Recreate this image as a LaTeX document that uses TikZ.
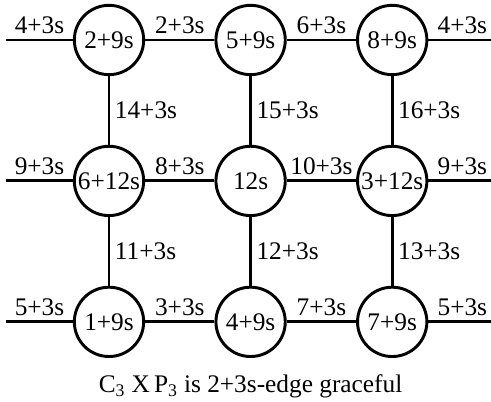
\documentclass[tikz,border=0pt]{standalone}
\usepackage{fontspec}
\setmainfont{Liberation Serif}
\usepackage{tikz}
\usetikzlibrary{positioning}

\begin{document}
\begin{tikzpicture}[
        node distance=51.5pt and 52pt,
        vertex/.style={circle, draw, line width=2.2pt, minimum size=52pt, inner sep=0pt},
        edge/.style={line width=2.2pt},
        every node/.style={font=\fontsize{19}{21}\selectfont}
    ]
        \useasboundingbox (0,0) rectangle (368.25pt,301.5pt);

        % Define nodes
        \node (a1) [vertex] at (81.75pt,271.5pt) {2+9s};
        \node (a2) [vertex, right=of a1] {5+9s};
        \node (a3) [vertex, right=of a2] {8+9s};
        \node (b1) [vertex, below=of a1] {6+12s};
        \node (b2) [vertex, right=of b1] {12s};
        \node (b3) [vertex, right=of b2] {3+12s};
        \node (c1) [vertex, below=of b1] {1+9s};
        \node (c2) [vertex, right=of c1] {4+9s};
        \node (c3) [vertex, right=of c2] {7+9s};

        % Free ends
        \coordinate [left=50pt of a1] (a0);
        \coordinate [right=51pt of a3] (a4);
        \coordinate [left=50pt of b1] (b0);
        \coordinate [right=51pt of b3] (b4);
        \coordinate [left=50pt of c1] (c0);
        \coordinate [right=51pt of c3] (c4);

        \node (caption) [below=9pt of c2] {C\textsubscript{3} X\,P\textsubscript{3} is 2+3s-edge graceful};

        % Draw edges with labels
        \draw [edge] (a0) -- node[above]{4+3s} (a1);
        \draw [edge] (a1) -- node[above]{2+3s} (a2);
        \draw [edge] (a2) -- node[above]{6+3s} (a3);
        \draw [edge] (a3) -- node[above]{4+3s} (a4);
        \draw [edge] (b0) -- node[above]{9+3s} (b1);
        \draw [edge] (b1) -- node[above]{8+3s} (b2);
        \draw [edge] (b2) -- node[above]{10+3s} (b3);
        \draw [edge] (b3) -- node[above]{9+3s} (b4);
        \draw [edge] (c0) -- node[above]{5+3s} (c1);
        \draw [edge] (c1) -- node[above]{3+3s} (c2);
        \draw [edge] (c2) -- node[above]{7+3s} (c3);
        \draw [edge] (c3) -- node[above]{5+3s} (c4);

        \draw [edge] (a1) -- node[right]{14+3s} (b1);
        \draw [edge] (a2) -- node[right]{15+3s} (b2);
        \draw [edge] (a3) -- node[right]{16+3s} (b3);
        \draw [edge] (b1) -- node[right]{11+3s} (c1);
        \draw [edge] (b2) -- node[right]{12+3s} (c2);
        \draw [edge] (b3) -- node[right]{13+3s} (c3);
    \end{tikzpicture}
\end{document}
